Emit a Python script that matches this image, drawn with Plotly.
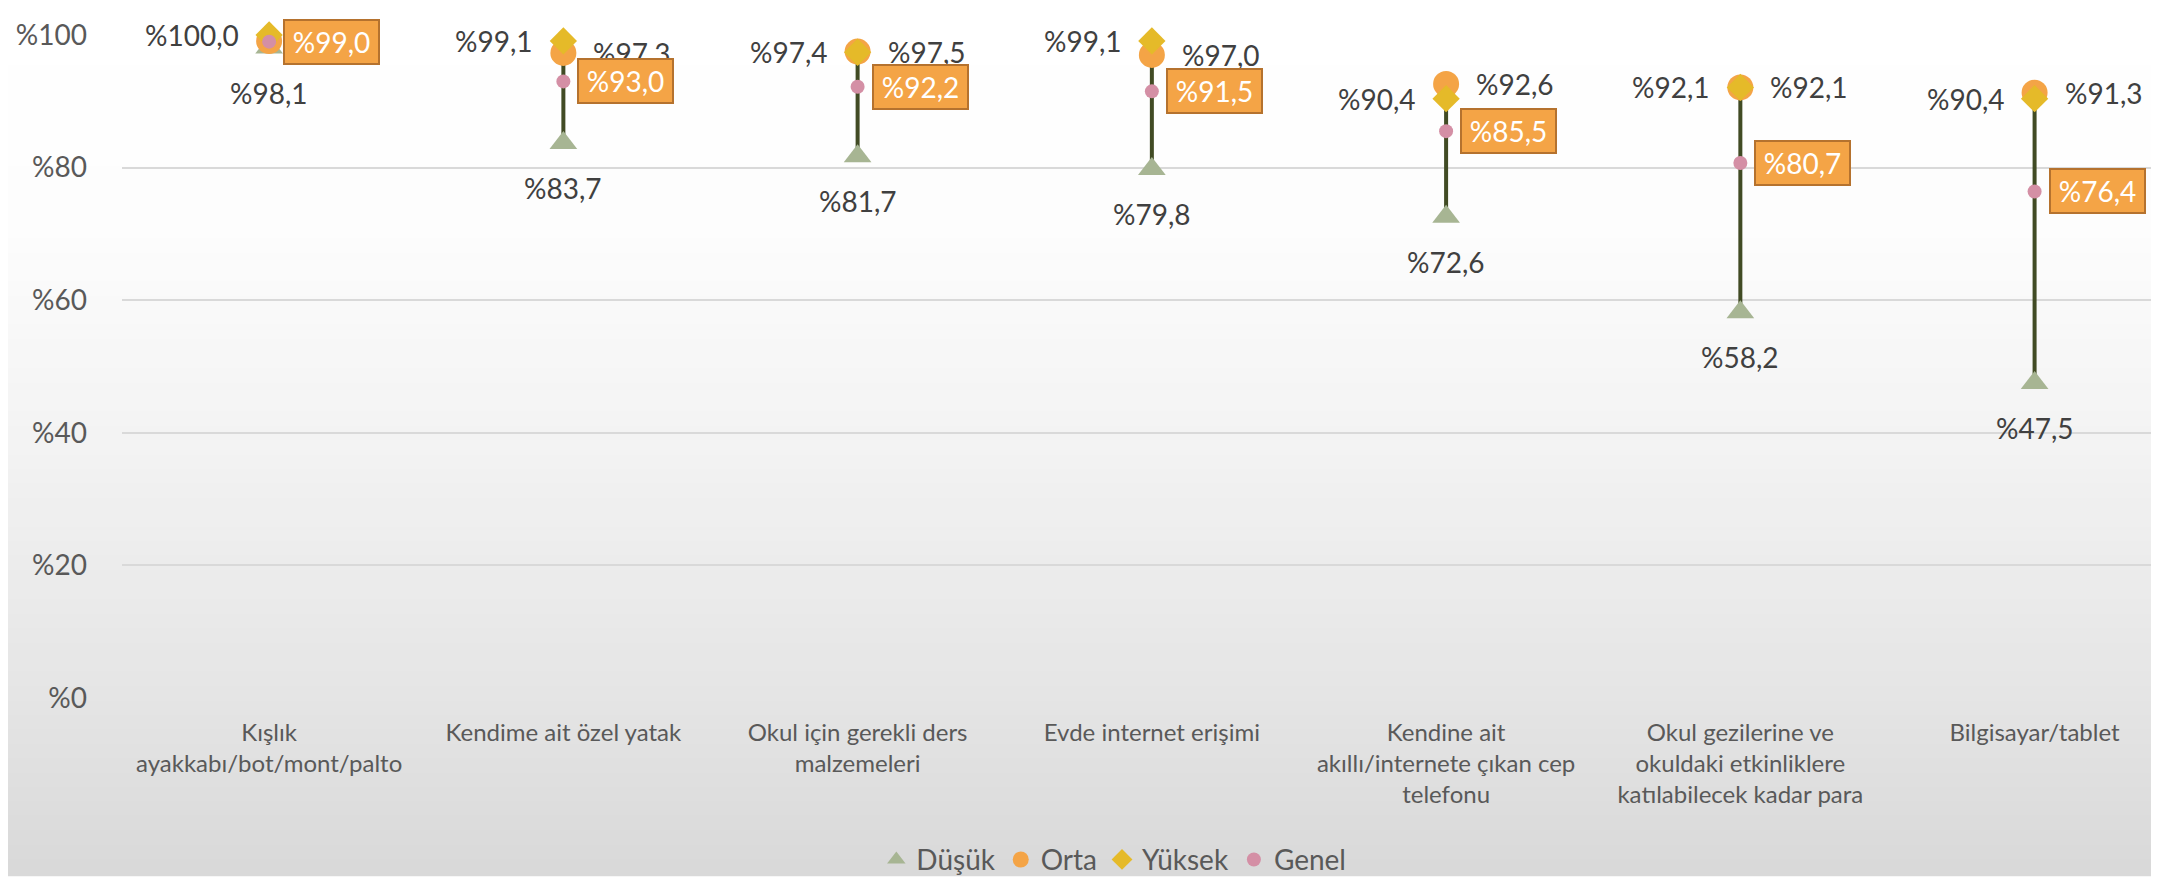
import plotly.graph_objects as go

categories = [
    "Kışlık<br>ayakkabı/bot/mont/palto",
    "Kendime ait özel yatak",
    "Okul için gerekli ders<br>malzemeleri",
    "Evde internet erişimi",
    "Kendine ait<br>akıllı/internete çıkan cep<br>telefonu",
    "Okul gezilerine ve<br>okuldaki etkinliklere<br>katılabilecek kadar para",
    "Bilgisayar/tablet",
]
dusuk = [98.1, 83.7, 81.7, 79.8, 72.6, 58.2, 47.5]
orta = [99.1, 97.3, 97.5, 97.0, 92.6, 92.1, 91.3]
yuksek = [100.0, 99.1, 97.4, 99.1, 90.4, 92.1, 90.4]
genel = [99.0, 93.0, 92.2, 91.5, 85.5, 80.7, 76.4]
y_ticks = [0, 20, 40, 60, 80, 100]
y_ticktext = ["%0", "%20", "%40", "%60", "%80", "%100"]

FONT = "Lato"
C_DUSUK = "#A7B593"
C_ORTA = "#F4A446"
C_YUKSEK = "#E5BA29"
C_GENEL = "#D48FA5"
C_LINE = "#414B24"
C_TEXT = "#404040"


def fmt(v):
    return "%" + f"{v:.1f}".replace(".", ",")


fig = go.Figure()

# vertical range lines (min to max of the three groups)
lx, ly = [], []
for c, d, o, y in zip(categories, dusuk, orta, yuksek):
    lx += [c, c, None]
    ly += [min(d, o, y), max(d, o, y), None]
fig.add_trace(go.Scatter(x=lx, y=ly, mode="lines", line=dict(color=C_LINE, width=4),
                         showlegend=False, hoverinfo="skip", cliponaxis=False))

fig.add_trace(go.Scatter(x=categories, y=dusuk, mode="markers", name="Düşük",
                         marker=dict(symbol="triangle-up", size=24, color=C_DUSUK),
                         cliponaxis=False))
fig.add_trace(go.Scatter(x=categories, y=orta, mode="markers", name="Orta",
                         marker=dict(symbol="circle", size=26, color=C_ORTA),
                         cliponaxis=False))
fig.add_trace(go.Scatter(x=categories, y=yuksek, mode="markers", name="Yüksek",
                         marker=dict(symbol="diamond", size=21, color=C_YUKSEK),
                         cliponaxis=False))
fig.add_trace(go.Scatter(x=categories, y=genel, mode="markers", name="Genel",
                         marker=dict(symbol="circle", size=14, color=C_GENEL),
                         cliponaxis=False))

annotations = []
lab_font = dict(family=FONT, size=28, color=C_TEXT)
for c, d, o, y in zip(categories, dusuk, orta, yuksek):
    annotations.append(dict(x=c, y=y, xref="x", yref="y", text=fmt(y), showarrow=False,
                            xanchor="right", yanchor="middle", xshift=-28, font=lab_font))
    annotations.append(dict(x=c, y=o, xref="x", yref="y", text=fmt(o), showarrow=False,
                            xanchor="left", yanchor="middle", xshift=28, font=lab_font))
    annotations.append(dict(x=c, y=d, xref="x", yref="y", text=fmt(d), showarrow=False,
                            xanchor="center", yanchor="middle", yshift=-45, font=lab_font))
for c, g in zip(categories, genel):
    annotations.append(dict(x=c, y=g, xref="x", yref="y", text=fmt(g), showarrow=False,
                            xanchor="left", yanchor="middle", xshift=14,
                            font=dict(family=FONT, size=28, color="white"),
                            bgcolor=C_ORTA, bordercolor="#B5722E", borderwidth=2,
                            borderpad=4, width=85, align="center"))

# background gradient (white -> light gray)
shapes = []
stops = [(0.0, 255), (0.25, 253), (0.5, 243), (0.75, 231), (1.0, 217)]
n = 60
H = 877
mt, mb = 27, 179
ph = H - mt - mb
for i in range(n):
    t0, t1 = i / n, (i + 1) / n
    tm = (t0 + t1) / 2
    for (a, va), (b, vb) in zip(stops[:-1], stops[1:]):
        if a <= tm <= b:
            v = va + (vb - va) * (tm - a) / (b - a)
            break
    v = int(round(v))
    y_top = (H - mb - t0 * H) / ph
    y_bot = (H - mb - t1 * H) / ph
    shapes.append(dict(type="rect", xref="paper", yref="paper", x0=-0.1, x1=1.1,
                       y0=y_bot - 0.002, y1=y_top + 0.002, line=dict(width=0),
                       fillcolor=f"rgb({v},{v},{v})", layer="below"))

fig.update_layout(
    width=2159, height=877,
    margin=dict(l=114, r=0, t=mt, b=mb),
    paper_bgcolor="white", plot_bgcolor="rgba(0,0,0,0)",
    font=dict(family=FONT, size=24, color="#595959"),
    shapes=shapes,
    annotations=annotations,
    showlegend=True,
    legend=dict(orientation="h", x=0.485, xanchor="center", y=-0.244, yanchor="middle",
                font=dict(family=FONT, size=28, color="#595959"),
                bgcolor="rgba(0,0,0,0)", traceorder="normal"),
    xaxis=dict(type="category", categoryorder="array", categoryarray=categories,
               range=[-0.5, 6.45], showgrid=False, zeroline=False, showline=False,
               ticks="", ticklabelstandoff=18,
               tickfont=dict(family=FONT, size=24, color="#595959")),
    yaxis=dict(range=[0, 100], tickmode="array", tickvals=y_ticks, ticktext=y_ticktext,
               showgrid=True, gridcolor="#D9D9D9", gridwidth=2, zeroline=False,
               showline=False, ticks="", ticklabelstandoff=34,
               tickfont=dict(family=FONT, size=28, color="#595959")),
    hovermode=False,
)

fig.write_html("out.html")
